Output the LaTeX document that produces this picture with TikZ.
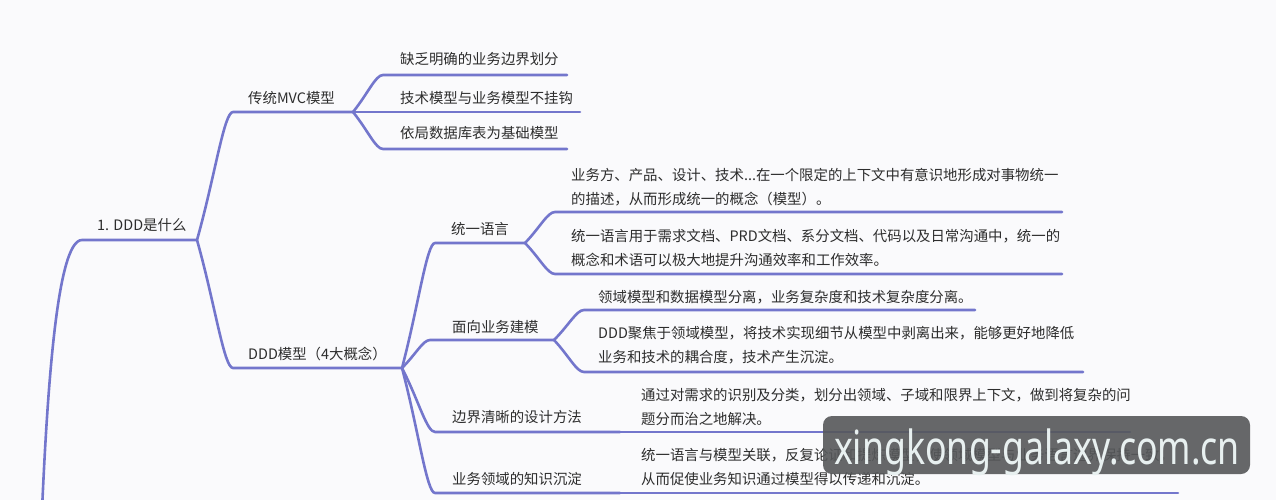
\documentclass[tikz,border=0pt]{standalone}
\usepackage{fontspec}
\setmainfont{Noto Sans CJK SC}
\newfontfamily\wmfont{Noto Sans}
\usetikzlibrary{calc}
\definecolor{bgc}{RGB}{250,250,252}
\definecolor{linec}{RGB}{115,118,204}
\definecolor{txtc}{RGB}{45,45,45}
\definecolor{wmbg}{RGB}{86,88,90}
\definecolor{wmtx}{RGB}{232,240,240}
\tikzset{
  lbl/.style={anchor=base west, inner sep=0pt, text=txtc, font=\fontsize{14.4}{24}\selectfont},
  ul/.style={draw=linec, line width=2.6pt, line cap=round, line join=round},
  branch/.style={to path={let \p1=(\tikztostart), \p2=(\tikztotarget) in
     .. controls ({\x1+0.5*(\x2-\x1)},{\y1+0.5*(\y2-\y1)}) and ({\x1+0.75*(\x2-\x1)},\y2) .. (\tikztotarget)}},
}
\begin{document}
\begin{tikzpicture}[x=1pt,y=-1pt]
\fill[bgc] (0,0) rectangle (1276,500);
\useasboundingbox (0,0) rectangle (1276,500);
\clip (0,0) rectangle (1276,500);
% underline coordinates
\coordinate (rootS) at (40,560);
\coordinate (root-s) at (82,240);   \coordinate (root-e) at (197,240);
\coordinate (mvc-s) at (233,112);   \coordinate (mvc-e) at (353,112);
\coordinate (l1a-s) at (383,75);    \coordinate (l1a-e) at (567,75);
\coordinate (l1b-e) at (580,112);
\coordinate (l1c-s) at (383,149);   \coordinate (l1c-e) at (567,149);
\coordinate (ddd-s) at (233,368);   \coordinate (ddd-e) at (402,368);
\coordinate (ty-s) at (435,243);    \coordinate (ty-e) at (525,243);
\coordinate (ty1-s) at (555,212);   \coordinate (ty1-e) at (1062,212);
\coordinate (ty2-s) at (555,274);   \coordinate (ty2-e) at (1062,274);
\coordinate (mx-s) at (430,340);    \coordinate (mx-e) at (554,340);
\coordinate (mx1-s) at (584,310);   \coordinate (mx1-e) at (975,310);
\coordinate (mx2-s) at (584,372);   \coordinate (mx2-e) at (1083,372);
\coordinate (bj-s) at (435,432);    \coordinate (bj-e) at (620,432);
\coordinate (bj1-e) at (1130,432);
\coordinate (zs-s) at (435,493);    \coordinate (zs-e) at (620,493);
\coordinate (zs1-e) at (1178,493);

% connectors and underlines
\draw[ul] (rootS) .. controls (46,400) and (56,240) .. (root-s) -- (root-e);
\draw[ul] (root-e) to[branch] (mvc-s) -- (mvc-e);
\draw[ul] (root-e) to[branch] (ddd-s) -- (ddd-e);
\draw[ul] (mvc-e) to[branch] (l1a-s) -- (l1a-e);
\draw[ul] (mvc-e) -- (l1b-e);
\draw[ul] (mvc-e) to[branch] (l1c-s) -- (l1c-e);
\draw[ul] (ddd-e) to[branch] (ty-s) -- (ty-e);
\draw[ul] (ddd-e) to[branch] (mx-s) -- (mx-e);
\draw[ul] (ddd-e) to[branch] (bj-s) -- (bj-e);
\draw[ul] (ddd-e) to[branch] (zs-s) -- (zs-e);
\draw[ul] (ty-e) to[branch] (ty1-s) -- (ty1-e);
\draw[ul] (ty-e) to[branch] (ty2-s) -- (ty2-e);
\draw[ul] (mx-e) to[branch] (mx1-s) -- (mx1-e);
\draw[ul] (mx-e) to[branch] (mx2-s) -- (mx2-e);
\draw[ul] (bj-e) -- (bj1-e);
\draw[ul] (zs-e) -- (zs1-e);

% texts
\node[lbl] (root) at (97,230) {1. DDD是什么};
\node[lbl] (mvc) at (248,103) {传统MVC模型};
\node[lbl] (l1a) at (400,65) {缺乏明确的业务边界划分};
\node[lbl] (l1b) at (400,103) {技术模型与业务模型不挂钩};
\node[lbl] (l1c) at (400,139) {依局数据库表为基础模型};
\node[lbl] (ddd) at (248,359) {DDD模型（4大概念）};
\node[lbl] (ty) at (451,234) {统一语言};
\node[lbl] (ty1a) at (571,180) {业务方、产品、设计、技术...在一个限定的上下文中有意识地形成对事物统一};
\node[lbl] (ty1b) at (571,204) {的描述，从而形成统一的概念（模型）。};
\node[lbl] (ty2a) at (571,241) {统一语言用于需求文档、PRD文档、系分文档、代码以及日常沟通中，统一的};
\node[lbl] (ty2b) at (571,265) {概念和术语可以极大地提升沟通效率和工作效率。};
\node[lbl] (mx) at (452,332) {面向业务建模};
\node[lbl] (mx1) at (598,302) {领域模型和数据模型分离，业务复杂度和技术复杂度分离。};
\node[lbl] (mx2a) at (598,338) {DDD聚焦于领域模型，将技术实现细节从模型中剥离出来，能够更好地降低};
\node[lbl] (mx2b) at (598,362) {业务和技术的耦合度，技术产生沉淀。};
\node[lbl] (bj) at (452,422) {边界清晰的设计方法};
\node[lbl] (bj1a) at (641,400) {通过对需求的识别及分类，划分出领域、子域和限界上下文，做到将复杂的问};
\node[lbl] (bj1b) at (641,424) {题分而治之地解决。};
\node[lbl] (zs) at (452,484) {业务领域的知识沉淀};
\node[lbl] (zs1a) at (641,460) {统一语言与模型关联，反复论证和提炼模型，使领域模型与业务语言边界保持一致，};
\node[lbl] (zs1b) at (641,484) {从而促使业务知识通过模型得以传递和沉淀。};

% watermark
\fill[wmbg, fill opacity=0.9, rounded corners=9pt] (823,416) rectangle (1250,474);
\node[anchor=base, inner sep=0pt, text=wmtx, font=\wmfont\fontsize{47}{47}\selectfont] (wm) at (1037,464) {\scalebox{0.76}[1]{xingkong-galaxy.com.cn}};
\end{tikzpicture}
\end{document}
